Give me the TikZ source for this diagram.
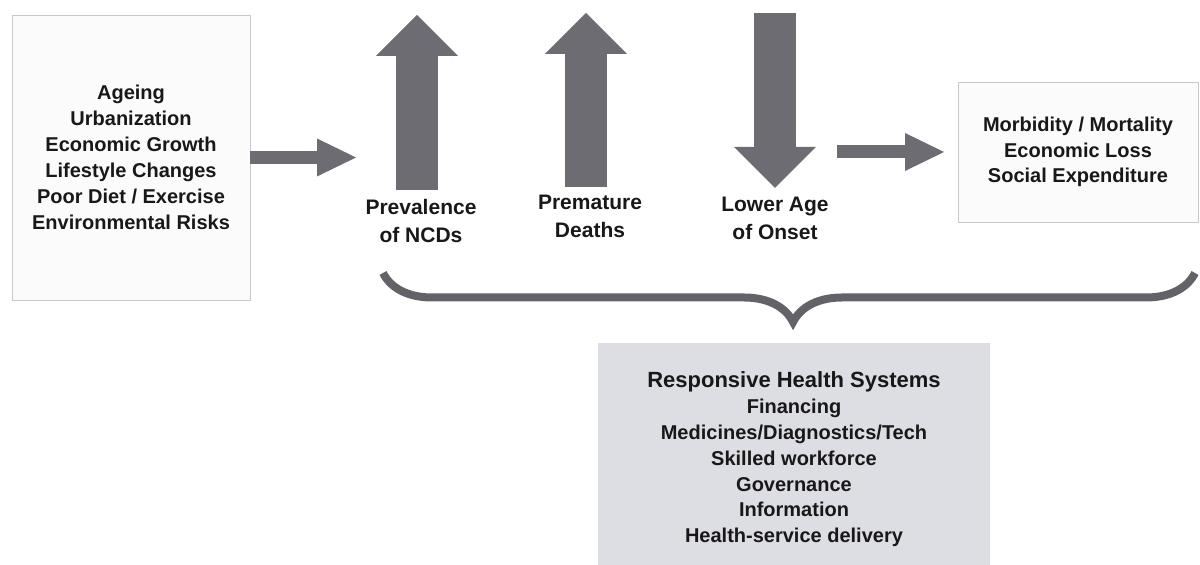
\documentclass[tikz,border=0pt]{standalone}
\usepackage{fontspec}
\setmainfont{Liberation Sans}
\usetikzlibrary{arrows.meta,decorations.pathreplacing}

\definecolor{arrowgray}{RGB}{108,108,114}
\definecolor{bracegray}{RGB}{98,98,104}
\definecolor{boxline}{RGB}{200,200,200}
\definecolor{boxfill}{RGB}{251,251,251}
\definecolor{sysfill}{RGB}{221,221,228}
\definecolor{txt}{RGB}{24,24,24}

\begin{document}
\begin{tikzpicture}[x=0.5pt, y=-0.5pt, outer sep=0pt]

\tikzstyle{textbox}=[draw=boxline, fill=boxfill, line width=0.4pt, rectangle, align=center, text=txt, font=\bfseries\fontsize{10}{13}\selectfont]
\tikzstyle{flatarrow}=[draw=arrowgray, line width=6.5pt, -{Triangle[width=19pt, length=19.5pt, line width=0pt]}]
\tikzstyle{bigarrow}=[draw=arrowgray, line width=21pt, -{Triangle[width=41pt, length=20.5pt, line width=0pt]}]
\tikzstyle{arrowtext}=[align=center, text=txt, font=\bfseries\fontsize{10.5}{14}\selectfont]
\tikzstyle{bracestyle}=[draw=bracegray, line width=4pt, decorate, decoration={brace, mirror, amplitude=24.5pt, aspect=0.505}]

\useasboundingbox (0,0) rectangle (1200,565);

% boxes
\node[textbox, minimum width=119pt, minimum height=142.5pt] (factors) at (131,157.5) {Ageing\\Urbanization\\Economic Growth\\Lifestyle Changes\\Poor Diet / Exercise\\Environmental Risks};
\node[textbox, minimum width=120pt, minimum height=70pt, font=\bfseries\fontsize{10}{12.75}\selectfont] (burden) at (1078,152) {Morbidity / Mortality\\Economic Loss\\Social Expenditure};
\node[rectangle, fill=sysfill, align=center, text=txt, minimum width=196pt, minimum height=116.5pt, font=\bfseries\fontsize{10}{12.9}\selectfont] (hsys) at (794,459.5) {{\fontsize{11}{12.9}\selectfont Responsive Health Systems}\\Financing\\Medicines/Diagnostics/Tech\\Skilled workforce\\Governance\\Information\\Health-service delivery};

% up / down arrows
\coordinate (ncdBase) at (417,190); \coordinate (ncdTip) at (417,15);
\coordinate (deathBase) at (586,187); \coordinate (deathTip) at (586,13);
\coordinate (onsetTop) at (775,13); \coordinate (onsetTip) at (775,188);
\draw[bigarrow] (ncdBase) -- (ncdTip);
\draw[bigarrow] (deathBase) -- (deathTip);
\draw[bigarrow] (onsetTop) -- (onsetTip);

\node[arrowtext] (lblNCD) at (421,221) {Prevalence\\of NCDs};
\node[arrowtext] (lblDeaths) at (590,216.5) {Premature\\Deaths};
\node[arrowtext] (lblOnset) at (775,218.5) {Lower Age\\of Onset};

% side arrows
\coordinate (ncdIn) at (356,157.5);
\coordinate (onsetOut) at (837,152);
\draw[flatarrow] (factors.east) -- (ncdIn);
\draw[flatarrow, shorten >=7pt] (onsetOut) -- (burden.west);

% brace
\coordinate (braceL) at (383,273); \coordinate (braceR) at (1195,273);
\draw[bracestyle] (braceL) -- (braceR);

\end{tikzpicture}
\end{document}
